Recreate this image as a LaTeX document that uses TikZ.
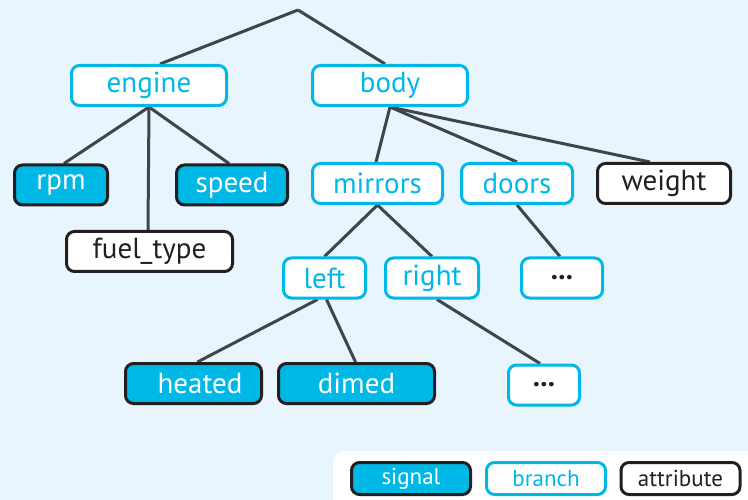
\documentclass[tikz,border=0pt]{standalone}
\usepackage{fontspec}
\setmainfont{PT Sans}
\definecolor{bgc}{HTML}{E8F5FC}
\definecolor{cy}{HTML}{00B8E6}
\definecolor{dk}{HTML}{231F20}
\definecolor{ln}{HTML}{3F4548}
\pgfdeclarelayer{back}
\pgfdeclarelayer{lines}
\pgfsetlayers{back,lines,main}
\tikzset{
  base/.style={rounded corners=8pt, line width=3pt, inner sep=0pt, font=\fontsize{29}{32}\selectfont, minimum height=40pt},
  sig/.style={base, draw=dk, fill=cy, text=white},
  br/.style={base, draw=cy, fill=white, text=cy},
  att/.style={base, draw=dk, fill=white, text=dk},
  leg/.style={font=\fontsize{23}{26}\selectfont, minimum height=32pt, minimum width=119pt},
  con/.style={draw=ln, line width=3pt},
}
\begin{document}
\begin{tikzpicture}[x=1pt,y=-1pt]
\clip (0,0) rectangle (748,500);
\begin{pgfonlayer}{back}
  \fill[bgc] (0,0) rectangle (748,500);
  \fill[white, rounded corners=12pt] (333,451) rectangle (780,530);
\end{pgfonlayer}
\coordinate (root) at (298,10);
\node[br, minimum width=155pt] (engine) at (149,85.5) {engine};
\node[br, minimum width=155pt] (body) at (390,85.5) {body};
\node[sig, minimum width=93pt] (rpm) at (61,185) {rpm};
\node[sig, minimum width=111pt] (speed) at (232,185) {speed};
\node[att, minimum width=166pt] (fuel) at (149.5,251.5) {fuel\_type};
\node[br, minimum width=130pt] (mirrors) at (377.5,183.5) {mirrors};
\node[br, minimum width=111pt] (doors) at (517,183.5) {doors};
\node[att, minimum width=133pt] (weight) at (664,183.5) {weight};
\node[br, minimum width=82pt] (left) at (324.5,278) {left};
\node[br, minimum width=93pt] (right) at (432,278) {right};
\node[br, minimum width=81pt, text=dk] (dotsA) at (562,278) {\textbf{...}};
\node[sig, minimum width=136pt] (heated) at (193.5,383.5) {\hspace*{13pt}heated};
\node[sig, minimum width=156pt] (dimed) at (356.5,383.5) {dimed};
\node[br, minimum width=71pt, text=dk] (dotsB) at (544,385) {\textbf{...}};
\node[sig, leg] (lsig) at (411,478.5) {signal};
\node[br, leg] (lbr) at (546,478.5) {branch};
\node[att, leg] (latt) at (680.5,478.5) {attribute};
\begin{pgfonlayer}{lines}
  \draw[con] (root) -- ([xshift=11pt]engine.north);
  \draw[con] (root) -- ([xshift=-5pt]body.north);
  \draw[con] (engine.south) -- ([xshift=3pt]rpm.north);
  \draw[con] (engine.south) -- ([xshift=-1.5pt]fuel.north);
  \draw[con] (engine.south) -- ([xshift=-3pt]speed.north);
  \draw[con] (body.south) -- ([xshift=-1.5pt]mirrors.north);
  \draw[con] (body.south) -- (doors.north);
  \draw[con] (body.south) -- ([xshift=-14pt]weight.north);
  \draw[con] (mirrors.south) -- (left.north);
  \draw[con] (mirrors.south) -- (right.north);
  \draw[con] (doors.south) -- ([xshift=-2pt]dotsA.north);
  \draw[con] ([xshift=-7pt]left.south) -- ([xshift=4pt]heated.north);
  \draw[con] ([xshift=2pt]left.south) -- ([xshift=-1pt]dimed.north);
  \draw[con] ([xshift=5pt]right.south) -- ([xshift=-4pt]dotsB.north);
\end{pgfonlayer}
\end{tikzpicture}
\end{document}
